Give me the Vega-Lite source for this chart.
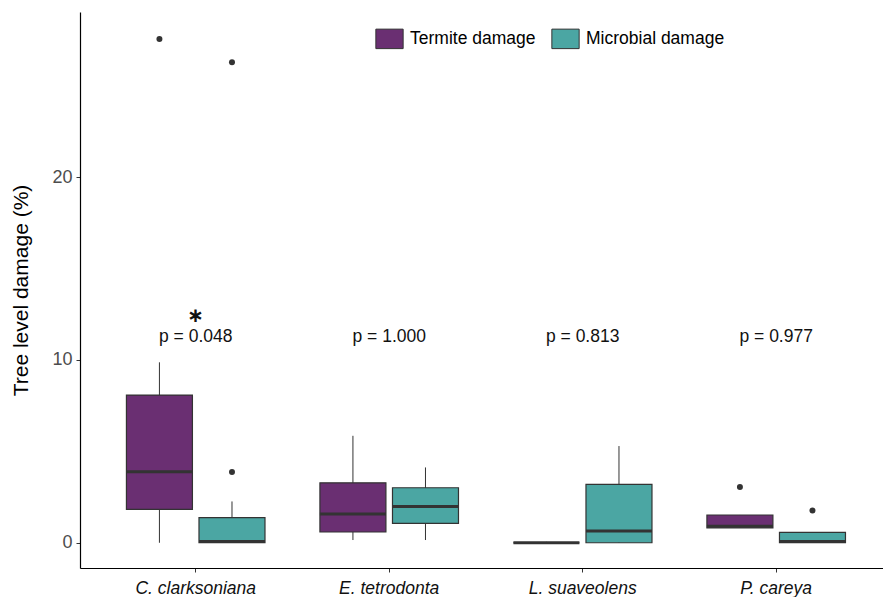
{
  "$schema": "https://vega.github.io/schema/vega-lite/v6.json",
  "width": 803,
  "height": 556,
  "autosize": {"type": "none"},
  "padding": {"left": 80, "top": 12, "right": 0, "bottom": 29},
  "config": {
    "view": {"stroke": null},
    "font": "Liberation Sans",
    "axis": {"grid": false, "domainColor": "#000000", "domainWidth": 1.2, "tickColor": "#333333", "tickSize": 4, "tickWidth": 1}
  },
  "datasets": {
    "boxes": [
      {"species": "C. clarksoniana", "type": "Termite damage", "lower": 0, "q1": 1.83, "median": 3.88, "q3": 8.08, "upper": 9.87},
      {"species": "C. clarksoniana", "type": "Microbial damage", "lower": 0, "q1": 0, "median": 0.07, "q3": 1.37, "upper": 2.26},
      {"species": "E. tetrodonta", "type": "Termite damage", "lower": 0.15, "q1": 0.59, "median": 1.57, "q3": 3.28, "upper": 5.85},
      {"species": "E. tetrodonta", "type": "Microbial damage", "lower": 0.15, "q1": 1.06, "median": 1.99, "q3": 3.01, "upper": 4.12},
      {"species": "L. suaveolens", "type": "Termite damage", "lower": 0, "q1": 0, "median": 0, "q3": 0, "upper": 0.05},
      {"species": "L. suaveolens", "type": "Microbial damage", "lower": 0, "q1": 0, "median": 0.64, "q3": 3.19, "upper": 5.29},
      {"species": "P. careya", "type": "Termite damage", "lower": 0.82, "q1": 0.82, "median": 0.91, "q3": 1.52, "upper": 1.52},
      {"species": "P. careya", "type": "Microbial damage", "lower": 0, "q1": 0, "median": 0.07, "q3": 0.57, "upper": 0.57}
    ],
    "outliers": [
      {"species": "C. clarksoniana", "type": "Termite damage", "value": 27.55},
      {"species": "C. clarksoniana", "type": "Microbial damage", "value": 3.87},
      {"species": "C. clarksoniana", "type": "Microbial damage", "value": 26.28},
      {"species": "P. careya", "type": "Termite damage", "value": 3.05},
      {"species": "P. careya", "type": "Microbial damage", "value": 1.77}
    ],
    "labels": [
      {"species": "C. clarksoniana", "label": "p = 0.048", "y": 11.27},
      {"species": "E. tetrodonta", "label": "p = 1.000", "y": 11.27},
      {"species": "L. suaveolens", "label": "p = 0.813", "y": 11.27},
      {"species": "P. careya", "label": "p = 0.977", "y": 11.27}
    ],
    "stars": [
      {"species": "C. clarksoniana", "star": "∗", "y": 12.38}
    ]
  },
  "encoding": {
    "x": {
      "field": "species", "type": "nominal",
      "sort": ["C. clarksoniana", "E. tetrodonta", "L. suaveolens", "P. careya"],
      "scale": {"paddingInner": 0.25, "paddingOuter": 0.2, "align": 0.5575},
      "axis": {"title": null, "labelAngle": 0, "labelFontSize": 17.5, "labelFontStyle": "italic", "labelColor": "#111111", "labelPadding": 7}
    }
  },
  "layer": [
    {
      "data": {"name": "boxes"},
      "mark": {"type": "rule", "color": "#333333", "strokeWidth": 1},
      "encoding": {
        "xOffset": {"field": "type", "type": "nominal", "sort": ["Termite damage", "Microbial damage"], "scale": {"paddingInner": 0, "paddingOuter": 0}},
        "y": {"field": "lower", "type": "quantitative", "scale": {"domain": [-1.38, 29.03], "nice": false, "zero": false},
          "axis": {"values": [0, 10, 20], "title": "Tree level damage (%)", "titleFontSize": 21, "titleFontWeight": "normal", "titleColor": "#000000", "labelFontSize": 18, "labelColor": "#4d4d4d", "labelPadding": 4, "titlePadding": 20}},
        "y2": {"field": "upper"}
      }
    },
    {
      "data": {"name": "boxes"},
      "mark": {"type": "bar", "width": 66, "stroke": "#333333", "strokeWidth": 1.2, "opacity": 1},
      "encoding": {
        "xOffset": {"field": "type", "type": "nominal", "sort": ["Termite damage", "Microbial damage"]},
        "y": {"field": "q1", "type": "quantitative"},
        "y2": {"field": "q3"},
        "fill": {"field": "type", "type": "nominal", "sort": ["Termite damage", "Microbial damage"],
          "scale": {"domain": ["Termite damage", "Microbial damage"], "range": ["#6A2F72", "#4BA6A3"]},
          "legend": {"title": null, "orient": "none", "legendX": 299, "legendY": 16, "direction": "horizontal",
            "symbolType": "M-1.4,-1L1.4,-1L1.4,1L-1.4,1Z", "symbolSize": 380, "symbolStrokeColor": "#333333", "symbolStrokeWidth": 1, "symbolOpacity": 1,
            "labelFontSize": 17.5, "labelColor": "#000000", "labelOffset": 10, "columnPadding": 13}}
      }
    },
    {
      "data": {"name": "boxes"},
      "mark": {"type": "tick", "orient": "horizontal", "size": 66, "thickness": 3, "color": "#333333", "opacity": 1},
      "encoding": {
        "xOffset": {"field": "type", "type": "nominal", "sort": ["Termite damage", "Microbial damage"]},
        "y": {"field": "median", "type": "quantitative"}
      }
    },
    {
      "data": {"name": "outliers"},
      "mark": {"type": "point", "filled": true, "color": "#333333", "size": 36, "opacity": 1},
      "encoding": {
        "xOffset": {"field": "type", "type": "nominal", "sort": ["Termite damage", "Microbial damage"]},
        "y": {"field": "value", "type": "quantitative"}
      }
    },
    {
      "data": {"name": "labels"},
      "mark": {"type": "text", "fontSize": 17.5, "color": "#111111", "baseline": "middle"},
      "encoding": {
        "y": {"field": "y", "type": "quantitative"},
        "text": {"field": "label"}
      }
    },
    {
      "data": {"name": "stars"},
      "mark": {"type": "text", "font": "DejaVu Sans", "fontSize": 20, "fontWeight": "bold", "color": "#111111", "baseline": "middle"},
      "encoding": {
        "y": {"field": "y", "type": "quantitative"},
        "text": {"field": "star"}
      }
    }
  ]
}
